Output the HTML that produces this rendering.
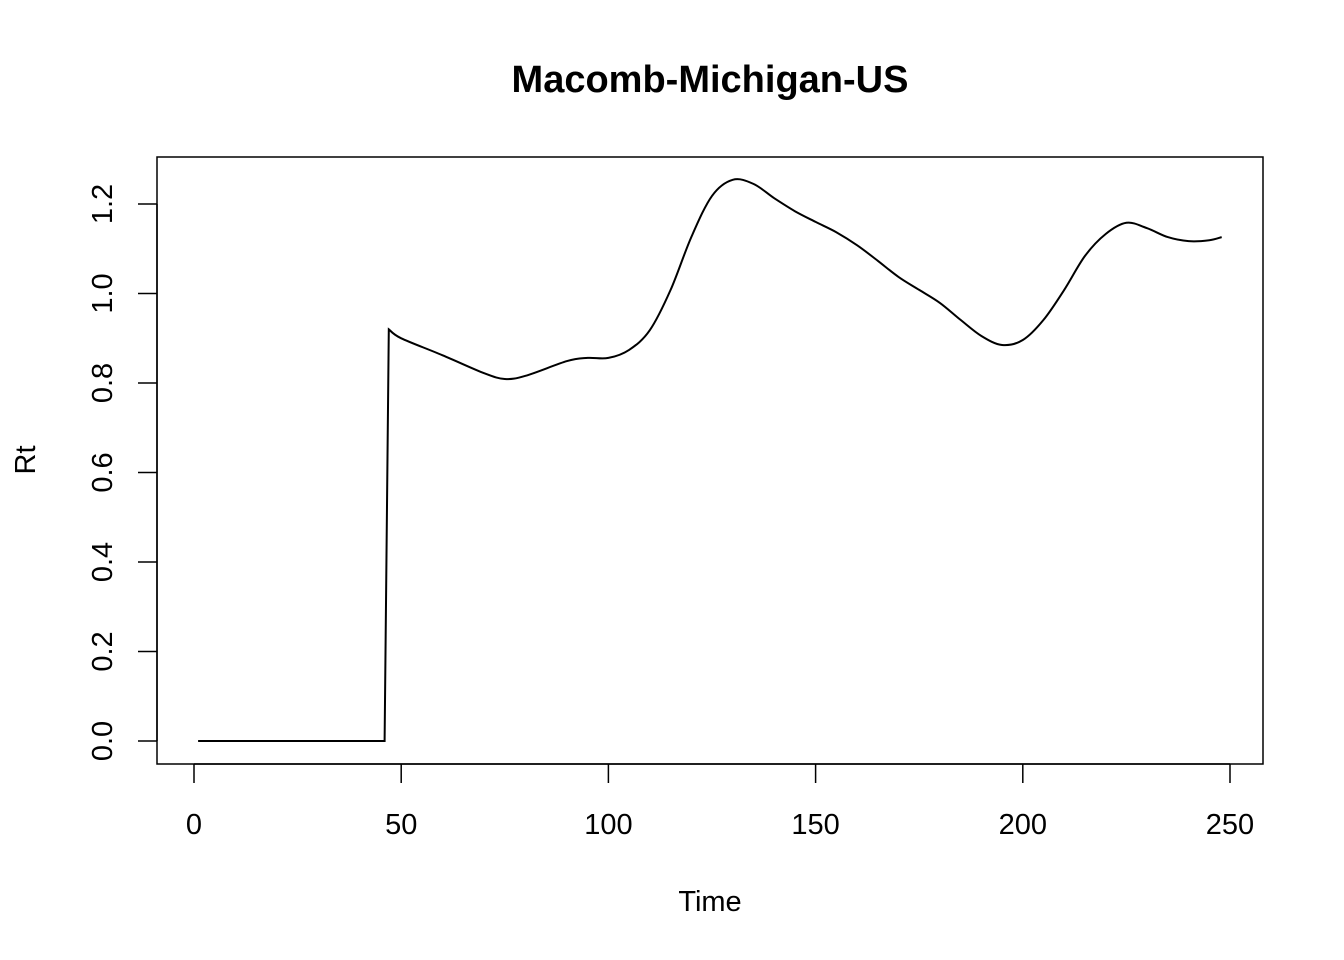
<!DOCTYPE html>
<html><head><meta charset="utf-8"><style>
html,body{margin:0;padding:0;background:#fff;}
svg{display:block;font-family:"Liberation Sans",Arial,sans-serif;}
</style></head><body>
<svg id="chart" width="1344" height="960" viewBox="0 0 1344 960" xmlns="http://www.w3.org/2000/svg">
<rect width="1344" height="960" fill="#fff"/>
<text x="710" y="92" text-anchor="middle" font-size="38" font-weight="bold">Macomb-Michigan-US</text>
<rect x="157" y="157" width="1106" height="607" fill="none" stroke="#000" stroke-width="1.5"/>
<g id="xaxis"></g>
<g id="yaxis"></g>
<text x="710" y="911" text-anchor="middle" font-size="29">Time</text>
<text transform="translate(35,460) rotate(-90)" text-anchor="middle" font-size="29">Rt</text>
<path id="line" fill="none" stroke="#000" stroke-width="2"/>
</svg>
<script>
const times = [1,46,47,50,60,70,75,80,90,95,100,105,110,115,120,125,130,135,140,145,150,155,160,165,170,175,180,185,190,195,200,205,210,215,220,225,230,235,240,245,248];
const rtValues = [0,0,0.92,0.90,0.862,0.822,0.809,0.816,0.849,0.856,0.856,0.874,0.918,1.008,1.126,1.218,1.254,1.245,1.213,1.184,1.160,1.137,1.108,1.073,1.037,1.008,0.979,0.941,0.905,0.885,0.896,0.941,1.008,1.084,1.133,1.158,1.146,1.126,1.117,1.119,1.126];
const xTicks = [0,50,100,150,200,250];
const yTicks = ["0.0","0.2","0.4","0.6","0.8","1.0","1.2"];
const NS="http://www.w3.org/2000/svg";
function xs(t){return 194 + t*(1036/250);}
function ys(v){return 741 - v*(537/1.2);}
const xa=document.getElementById('xaxis'), ya=document.getElementById('yaxis');
let d=`M${xs(xTicks[0])} 764 L${xs(xTicks[xTicks.length-1])} 764`;
xTicks.forEach(t=>{
  d+=` M${xs(t)} 764 L${xs(t)} 783`;
  const tx=document.createElementNS(NS,'text');
  
  
  tx.setAttribute('x',xs(t));tx.setAttribute('y',834);tx.setAttribute('text-anchor','middle');tx.setAttribute('font-size','29');
  tx.textContent=t;xa.appendChild(tx);
});
const xp=document.createElementNS(NS,'path');


xp.setAttribute('d',d);xp.setAttribute('stroke','#000');xp.setAttribute('stroke-width','1.5');xa.appendChild(xp);
let d2=`M157 ${ys(+yTicks[0])} L157 ${ys(+yTicks[yTicks.length-1])}`;
yTicks.forEach(s=>{
  const v=+s;
  d2+=` M157 ${ys(v)} L138 ${ys(v)}`;
  const tx=document.createElementNS(NS,'text');
  
  
  tx.setAttribute('transform',`translate(112,${ys(v)}) rotate(-90)`);tx.setAttribute('text-anchor','middle');tx.setAttribute('font-size','29');
  tx.textContent=s;ya.appendChild(tx);
});
const yp=document.createElementNS(NS,'path');


yp.setAttribute('d',d2);yp.setAttribute('stroke','#000');yp.setAttribute('stroke-width','1.5');ya.appendChild(yp);
const P=times.map((t,i)=>[xs(t),ys(rtValues[i])]);
let path=`M${P[0][0].toFixed(1)} ${P[0][1].toFixed(1)}`;
for(let i=0;i<P.length-1;i++){
  if(i<2){path+=` L${P[i+1][0].toFixed(1)} ${P[i+1][1].toFixed(1)}`;continue;}
  const p0=P[i-1]&&i>2?P[i-1]:P[i], p1=P[i], p2=P[i+1], p3=P[i+2]||P[i+1];
  const c1=[p1[0]+(p2[0]-p0[0])/6,p1[1]+(p2[1]-p0[1])/6];
  const c2=[p2[0]-(p3[0]-p1[0])/6,p2[1]-(p3[1]-p1[1])/6];
  path+=` C${c1[0].toFixed(1)} ${c1[1].toFixed(1)} ${c2[0].toFixed(1)} ${c2[1].toFixed(1)} ${p2[0].toFixed(1)} ${p2[1].toFixed(1)}`;
}
document.getElementById('line').setAttribute('d',path);
</script>
</body></html>
